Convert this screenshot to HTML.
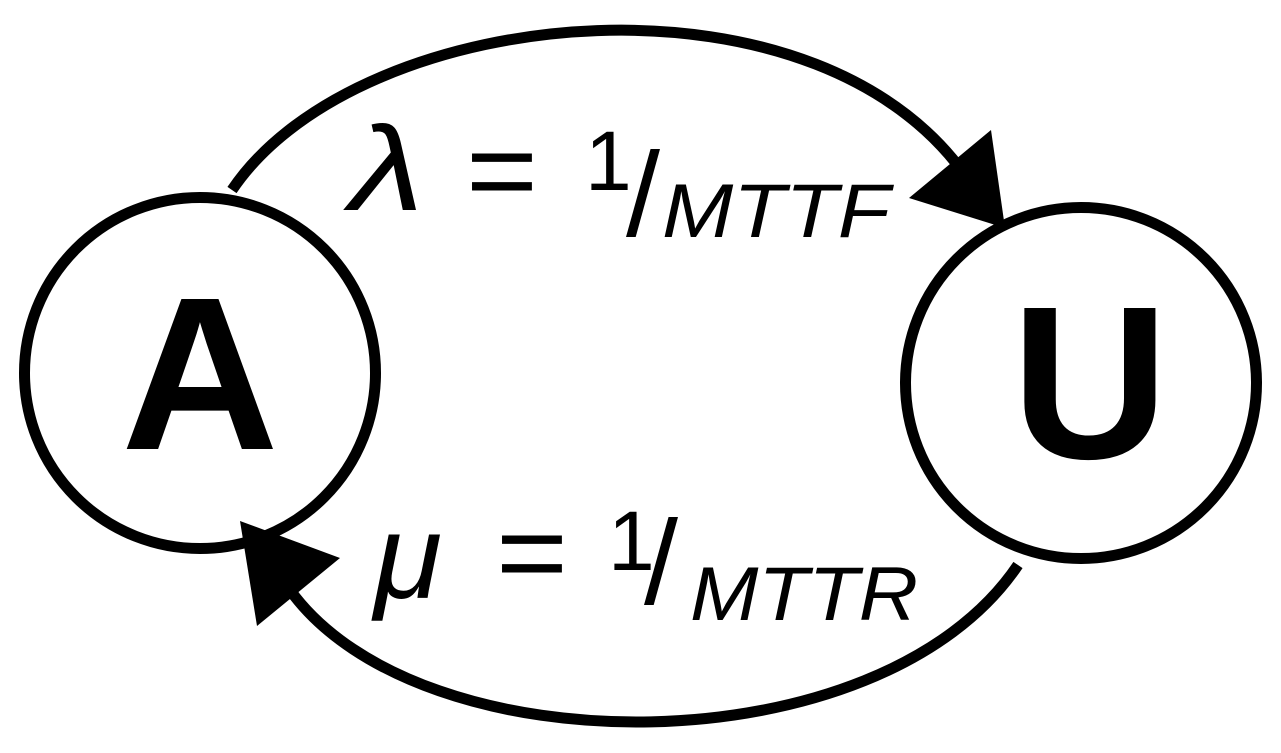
<!DOCTYPE html>
<html><head><meta charset="utf-8"><style>
html,body{margin:0;padding:0;background:#fff;}
svg{display:block;}
.t{font-family:"Liberation Sans","DejaVu Sans",sans-serif;}
</style></head><body>
<svg width="1281" height="753" viewBox="0 0 1281 753" xmlns="http://www.w3.org/2000/svg">
<rect width="1281" height="753" fill="#fff"/>
<circle cx="200" cy="373" r="175.5" fill="none" stroke="#000" stroke-width="11"/>
<circle cx="1081" cy="383" r="175.5" fill="none" stroke="#000" stroke-width="11"/>
<text class="t" x="200" y="449" font-weight="bold" font-size="218" text-anchor="middle">A</text>
<text class="t" x="1090" y="458" font-weight="bold" font-size="218" text-anchor="middle">U</text>
<path d="M232,190 C360,0 830,-45 975,190" fill="none" stroke="#000" stroke-width="11"/>
<polygon points="991,130 909,198 1005,228" fill="#000"/>
<path d="M1018,565 C880,770 420,770 290,590" fill="none" stroke="#000" stroke-width="11"/>
<polygon points="240,521 340,558 257,626" fill="#000"/>
<g class="t" fill="#000">
<text x="350" y="210" font-size="120" font-style="italic" textLength="74" lengthAdjust="spacingAndGlyphs">λ</text>
<text x="466" y="210" font-size="115" textLength="72" lengthAdjust="spacingAndGlyphs">=</text>
<text x="585" y="190" font-size="84">1</text>
<text x="626" y="236" font-size="120" textLength="34" lengthAdjust="spacingAndGlyphs">/</text>
<text x="662" y="237" font-size="76" font-style="italic" textLength="228" lengthAdjust="spacingAndGlyphs">MTTF</text>
<text x="374" y="598" font-size="120" font-style="italic" textLength="68" lengthAdjust="spacingAndGlyphs">μ</text>
<text x="496" y="592" font-size="115" textLength="72" lengthAdjust="spacingAndGlyphs">=</text>
<text x="608" y="570" font-size="84">1</text>
<text x="644" y="604" font-size="120" textLength="34" lengthAdjust="spacingAndGlyphs">/</text>
<text x="690" y="620" font-size="76" font-style="italic" textLength="228" lengthAdjust="spacingAndGlyphs">MTTR</text>
</g>
</svg>
</body></html>
